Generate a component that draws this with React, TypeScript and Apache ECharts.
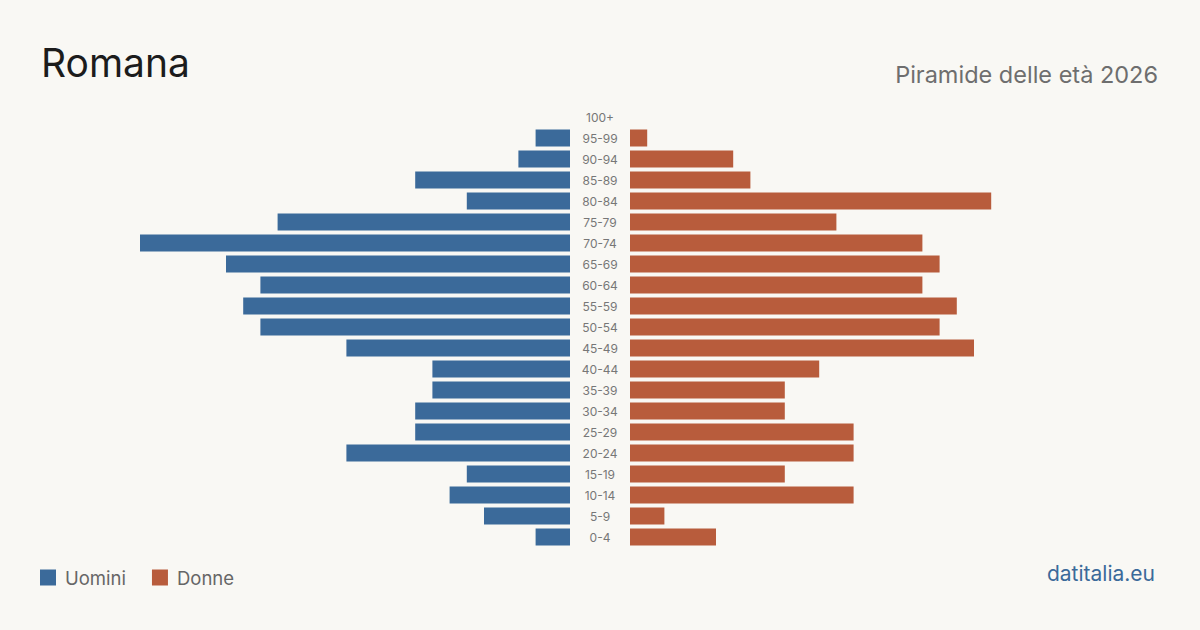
import React, { useEffect, useRef } from "react";
import * as echarts from "echarts";

// Age classes, bottom to top
const ageClasses = [
  "0-4", "5-9", "10-14", "15-19", "20-24", "25-29", "30-34", "35-39", "40-44", "45-49",
  "50-54", "55-59", "60-64", "65-69", "70-74", "75-79", "80-84", "85-89", "90-94", "95-99", "100+",
];
const men = [2, 5, 7, 6, 13, 9, 9, 8, 8, 13, 18, 19, 18, 20, 25, 17, 6, 9, 3, 2, 0];
const women = [5, 2, 13, 9, 13, 13, 9, 9, 11, 20, 18, 19, 17, 18, 17, 12, 21, 7, 6, 1, 0];

const TITLE = "Romana";
const SUBTITLE = "Piramide delle età 2026";
const SOURCE = "datitalia.eu";

const BLUE = "#3b6a9a";
const ORANGE = "#b85c3c";
const BG = "#f9f8f4";
const FONT = "Inter, 'Noto Sans', sans-serif";

export default function App() {
  const ref = useRef<HTMLDivElement>(null);

  useEffect(() => {
    if (!ref.current) return;
    const chart = echarts.init(ref.current, null, { renderer: "svg" });
    const maxVal = Math.max(...men, ...women);
    chart.setOption({
      animation: false,
      backgroundColor: BG,
      textStyle: { fontFamily: FONT },
      title: [
        {
          text: TITLE,
          left: 41,
          top: 43,
          padding: 0,
          textStyle: { fontSize: 39, fontWeight: 400, color: "#1c1c1c", fontFamily: FONT },
        },
        {
          text: SUBTITLE,
          right: 42,
          top: 62,
          padding: 0,
          textStyle: { fontSize: 23.5, fontWeight: 400, color: "#6e6e6e", fontFamily: FONT },
        },
        {
          text: SOURCE,
          right: 45,
          top: 563,
          padding: 0,
          textStyle: { fontSize: 21, fontWeight: 400, color: BLUE, fontFamily: FONT },
        },
      ],
      legend: {
        left: 40,
        top: 568,
        padding: 0,
        icon: "rect",
        itemWidth: 16,
        itemHeight: 16,
        itemGap: 26,
        textStyle: { fontSize: 18.5, color: "#666", fontFamily: FONT, padding: [0, 0, 0, 4] },
        data: ["Uomini", "Donne"],
      },
      grid: [
        { left: 140, width: 430, top: 106.5, height: 441 },
        { left: 630, width: 430, top: 106.5, height: 441 },
      ],
      xAxis: [
        { gridIndex: 0, type: "value", min: 0, max: maxVal, inverse: true, show: false },
        { gridIndex: 1, type: "value", min: 0, max: maxVal, show: false },
      ],
      yAxis: [
        {
          gridIndex: 0,
          type: "category",
          data: ageClasses,
          position: "right",
          axisLine: { show: false },
          axisTick: { show: false },
          axisLabel: {
            align: "center",
            margin: 30,
            fontSize: 12,
            color: "#777",
            fontFamily: FONT,
          },
        },
        {
          gridIndex: 1,
          type: "category",
          data: ageClasses,
          show: false,
        },
      ],
      series: [
        {
          name: "Uomini",
          type: "bar",
          xAxisIndex: 0,
          yAxisIndex: 0,
          data: men,
          barCategoryGap: "19%",
          itemStyle: { color: BLUE },
        },
        {
          name: "Donne",
          type: "bar",
          xAxisIndex: 1,
          yAxisIndex: 1,
          data: women,
          barCategoryGap: "19%",
          itemStyle: { color: ORANGE },
        },
      ],
    });
    return () => chart.dispose();
  }, []);

  return (
    <div
      ref={ref}
      style={{ position: "fixed", left: 0, top: 0, width: 1200, height: 630 }}
    />
  );
}
